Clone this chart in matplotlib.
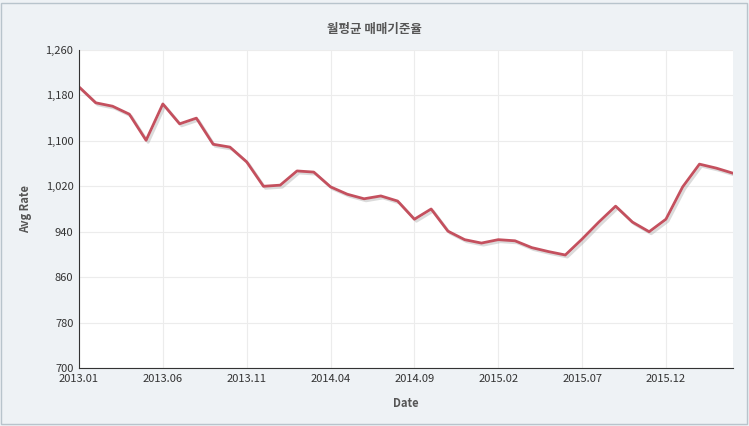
import matplotlib
matplotlib.use("Agg")
import matplotlib.pyplot as plt
import matplotlib.patheffects as pe

plt.rcParams['font.family'] = ['Noto Sans CJK KR', 'DejaVu Sans']

values = [1195,1167,1161,1147,1101,1165,1130,1140,1094,1089,1063,1020,1022,1047,1045,
          1019,1006,998,1003,994,962,980,941,926,920,926,924,912,905,899,
          927,957,985,957,940,962,1019,1059,1052,1043]
tick_labels = ["2013.01","2013.06","2013.11","2014.04","2014.09","2015.02","2015.07","2015.12"]
yticks = [700,780,860,940,1020,1100,1180,1260]

fig = plt.figure(figsize=(7.49,4.26), dpi=100)
fig.patch.set_facecolor('#eef2f5')
bg = fig.add_axes([0,0,1,1]); bg.set_axis_off()
bg.add_patch(plt.Rectangle((0.002,0.004),0.995,0.99,transform=bg.transAxes,fill=False,ec='#b8c4cc',lw=1))
ax = fig.add_axes([79/749, 1-368/426, (733-79)/749, (368-50)/426])
ax.set_facecolor('white')
x = list(range(len(values)))
ax.plot(x, values, color='#c4505e', lw=2,
        path_effects=[pe.SimpleLineShadow(offset=(1.5,-1.5),shadow_color='#999999',alpha=0.35), pe.Normal()])
ax.set_xlim(0, len(values)-1)
ax.set_ylim(700,1260)
ax.set_yticks(yticks)
ax.set_yticklabels([f"{v:,}" for v in yticks], fontsize=8, color='#333333')
ax.set_xticks(range(0, 40, 5))
ax.set_xticklabels(tick_labels, fontsize=8, color='#333333')
ax.grid(True, color='#ececec', lw=0.8)
for s in ['top','right']:
    ax.spines[s].set_visible(False)
for s in ['left','bottom']:
    ax.spines[s].set_color('#333333')
ax.tick_params(length=0, pad=4)
ax.set_xlabel('Date', fontsize=8, fontweight='bold', color='#555555', labelpad=10)
ax.set_ylabel('Avg Rate', fontsize=8, fontweight='bold', color='#555555', labelpad=10)
fig.text(0.5, 1-30/426, '월평균 매매기준율', ha='center', va='center', fontsize=9, fontweight='bold', color='#555555')
fig.savefig('out.png', dpi=100, facecolor=fig.get_facecolor())
